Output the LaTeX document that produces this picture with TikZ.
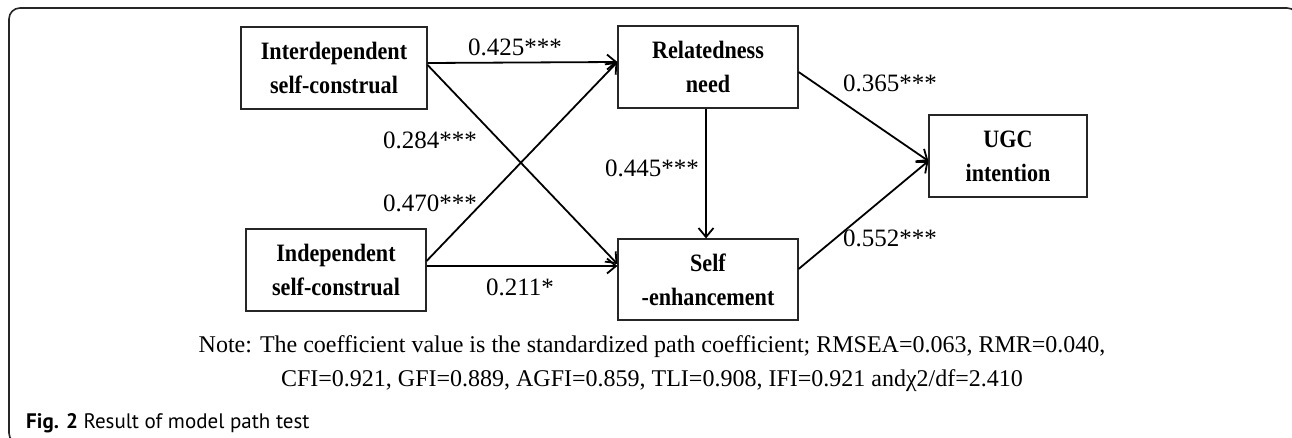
\documentclass[tikz,border=0pt]{standalone}
\usepackage{fontspec}
\setmainfont{Liberation Serif}
\newfontfamily\boxfont[FakeStretch=0.885]{Liberation Serif}
\newfontfamily\capfont{PT Sans}
\usetikzlibrary{arrows.meta,calc}

\tikzset{
  construct/.style={draw=black!85, line width=1.2pt, minimum width=180pt,
    minimum height=82pt, inner sep=0pt, align=center,
    font=\boxfont\bfseries\fontsize{25}{34}\selectfont},
  path/.style={line width=1.8pt, -{Straight Barb[length=9pt,width=15pt,line width=1.8pt]}},
  coef/.style={inner sep=0pt, font=\fontsize{25}{30}\selectfont},
  frame/.style={line width=1.6pt, draw=black!85, rounded corners=11pt},
}

\begin{document}
\begin{tikzpicture}[x=1pt,y=-1pt]
  \useasboundingbox (0,0) rectangle (1292,438);
  \clip (0,0) rectangle (1292,438);

  % figure frame
  \draw[frame] (9,8) rectangle (1298,444);

  % constructs
  \node[construct, minimum width=186pt] (inter) at (334,68)    {Interdependent\\self-construal};
  \node[construct] (indep) at (336,270)   {Independent\\self-construal};
  \node[construct] (rel)   at (708,67)    {Relatedness\\need};
  \node[construct, minimum height=81pt] (self)  at (708,279.5) {Self\\-enhancement};
  \node[construct, minimum width=158pt] (ugc) at (1008,156) {UGC\\intention};

  % structural paths
  \draw[path] ($(inter.east)+(0,-5)$) -- ($(rel.west)+(0,-5)$);
  \draw[path] ($(inter.east)+(0,-3)$) -- ($(self.west)+(0,-15.5)$);
  \draw[path] ($(indep.east)+(0,-9)$) -- ($(rel.west)+(0,-5)$);
  \draw[path] ($(indep.east)+(0,-4)$) -- ($(self.west)+(0,-13.5)$);
  \draw[path] ($(rel.south)+(-2,0)$) -- ($(self.north)+(-2,0)$);
  \draw[path] ($(rel.east)+(0,5)$) -- ($(ugc.west)+(0,5)$);
  \draw[path] ($(self.east)+(0,-10.5)$) -- ($(ugc.west)+(0,5)$);

  % path coefficients
  \node[coef] (c425) at (515,47)  {0.425***};
  \node[coef] (c284) at (430,140) {0.284***};
  \node[coef] (c470) at (430,203) {0.470***};
  \node[coef] (c445) at (652,168) {0.445***};
  \node[coef] (c365) at (890,83)  {0.365***};
  \node[coef] (c552) at (890,238) {0.552***};
  \node[coef] (c211) at (520,287) {0.211*};

  % fit note
  \node[align=center, inner sep=0pt, font=\fontsize{24}{34}\selectfont] (note) at (652,364)
    {Note: The coefficient value is the standardized path coefficient; RMSEA=0.063, RMR=0.040,\\
     CFI=0.921, GFI=0.889, AGFI=0.859, TLI=0.908, IFI=0.921 andχ2/df=2.410};

  % caption
  \node[anchor=west, inner sep=0pt, font=\capfont\fontsize{21}{24}\selectfont] (caption) at (26,423)
    {\textbf{Fig. 2} Result of model path test};
\end{tikzpicture}
\end{document}
